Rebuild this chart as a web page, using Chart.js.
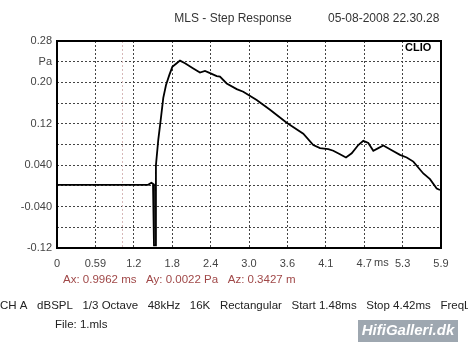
<!DOCTYPE html>
<html>
<head>
<meta charset="utf-8">
<script src="https://cdn.jsdelivr.net/npm/chart.js@4"></script>
<style>
  html, body { margin: 0; padding: 0; background: #fff; }
  #wrap { width: 468px; height: 351px; }
</style>
</head>
<body>
<div id="wrap"><canvas id="graph_step"></canvas></div>
<script>
/*------------------------------*/
/*          Data                */
/*------------------------------*/
var time_ms = [0, 0.5, 1.0, 1.40, 1.45, 1.475, 1.49, 1.515, 1.52, 1.556, 1.593, 1.633, 1.675, 1.725,
  1.772, 1.839, 1.890, 1.967, 2.094, 2.197, 2.274, 2.351, 2.454, 2.504, 2.607, 2.761, 2.862,
  3.068, 3.273, 3.529, 3.784, 3.938, 4.041, 4.168, 4.245, 4.348, 4.440, 4.528, 4.629, 4.706,
  4.783, 4.860, 4.937, 5.014, 5.143, 5.270, 5.373, 5.475, 5.628, 5.731, 5.834, 5.885]
var pressure_pa = [0.002, 0.002, 0.002, 0.002, 0.006, 0.004, -0.115, -0.115, 0.040, 0.089, 0.127, 0.170, 0.195, 0.214,
  0.230, 0.237, 0.242, 0.237, 0.227, 0.219, 0.222, 0.218, 0.212, 0.211, 0.198, 0.187, 0.182,
  0.166, 0.147, 0.122, 0.101, 0.079, 0.073, 0.071, 0.068, 0.061, 0.055, 0.063, 0.079, 0.087,
  0.083, 0.068, 0.073, 0.078, 0.069, 0.060, 0.055, 0.047, 0.024, 0.013, -0.005, -0.008]

var x_ticks = [0, 0.59, 1.18, 1.77, 2.36, 2.95, 3.54, 4.13, 4.72, 5.31, 5.9]
var x_labels = ['0', '0.59', '1.2', '1.8', '2.4', '3.0', '3.6', '4.1', '4.7', '5.3', '5.9']
var y_ticks = [-0.12, -0.08, -0.04, 0, 0.04, 0.08, 0.12, 0.16, 0.20, 0.24, 0.28]
var y_labels = ['-0.12', '', '-0.040', '', '0.040', '', '0.12', '', '0.20', 'Pa', '0.28']
var cursor_x = 0.9962

/*------------------------------*/
/*      Extra drawing           */
/*------------------------------*/
var frame_plugin = {
  id: 'frame',
  beforeDatasetsDraw: function (chart) {
    var c = chart.ctx, a = chart.chartArea
    var px = chart.scales.x.getPixelForValue(cursor_x)
    c.save()
    c.strokeStyle = '#d8b8b8'
    c.lineWidth = 1
    c.setLineDash([2, 2])
    c.beginPath()
    c.moveTo(Math.round(px) + 0.5, a.top)
    c.lineTo(Math.round(px) + 0.5, a.bottom)
    c.stroke()
    c.restore()
  },
  afterDraw: function (chart) {
    var c = chart.ctx, a = chart.chartArea
    c.save()
    c.strokeStyle = '#000'
    c.lineWidth = 2
    c.strokeRect(a.left, a.top, a.right - a.left, a.bottom - a.top)

    // CLIO tag
    c.fillStyle = '#fff'
    c.fillRect(a.right - 37, a.top + 1, 36, 13)
    c.fillStyle = '#000'
    c.font = 'bold 11px "Liberation Sans", Arial, sans-serif'
    c.textBaseline = 'middle'
    c.textAlign = 'left'
    c.fillText('CLIO', a.right - 36, a.top + 7)

    c.font = '11px "Liberation Sans", Arial, sans-serif'
    c.fillStyle = '#444'
    c.fillText('ms', 374, 263)

    c.font = '12px "Liberation Sans", Arial, sans-serif'
    c.fillStyle = '#333'
    c.textAlign = 'center'
    c.fillText('MLS - Step Response', 233, 19)
    c.textAlign = 'left'
    c.fillText('05-08-2008 22.30.28', 328, 19)

    c.font = '11.5px "Liberation Sans", Arial, sans-serif'
    c.fillStyle = '#a04848'
    c.fillText('Ax: 0.9962 ms   Ay: 0.0022 Pa   Az: 0.3427 m', 63, 280)

    c.fillStyle = '#222'
    c.fillText('CH A   dBSPL   1/3 Octave   48kHz   16K   Rectangular   Start 1.48ms   Stop 4.42ms   FreqL', 0, 306)
    c.fillText('File: 1.mls', 55, 325)

    // watermark
    c.fillStyle = '#9ea7b0'
    c.fillRect(358, 320, 100, 22)
    c.fillStyle = '#fff'
    c.font = 'italic bold 15px "Liberation Sans", Arial, sans-serif'
    c.textAlign = 'center'
    c.fillText('HifiGalleri.dk', 408, 331)
    c.restore()
  }
}

/*------------------------------*/
/*          Chart               */
/*------------------------------*/
var ctx_step = document.getElementById('graph_step').getContext('2d')

var config_step = {
  type: 'scatter',
  data: {
    datasets: [
      {
        label: 'Step response',
        data: time_ms.map(function (t, i) { return { x: t, y: pressure_pa[i] } }),
        showLine: true,
        borderColor: '#000',
        borderWidth: 1.8,
        pointRadius: 0,
        tension: 0
      }
    ]
  },
  options: {
    responsive: true,
    maintainAspectRatio: false,
    animation: false,
    layout: { padding: { top: 41, right: 27, left: 0, bottom: 0 } },
    plugins: {
      legend: { display: false },
      tooltip: { enabled: false }
    },
    scales: {
      x: {
        type: 'linear',
        min: 0,
        max: 5.9,
        afterBuildTicks: function (s) { s.ticks = x_ticks.map(function (v) { return { value: v } }) },
        afterFit: function (s) { s.height = 103 },
        ticks: {
          autoSkip: false,
          maxRotation: 0,
          padding: 9,
          color: '#444',
          font: { family: '"Liberation Sans", Arial, sans-serif', size: 11 },
          callback: function (v, i) { return x_labels[i] }
        },
        grid: { color: '#444', drawTicks: false },
        border: { display: false, dash: [2, 2] }
      },
      y: {
        min: -0.12,
        max: 0.28,
        afterBuildTicks: function (s) { s.ticks = y_ticks.map(function (v) { return { value: v } }) },
        afterFit: function (s) { s.width = 57 },
        ticks: {
          autoSkip: false,
          padding: 5,
          color: '#444',
          font: { family: '"Liberation Sans", Arial, sans-serif', size: 11 },
          callback: function (v, i) { return y_labels[i] }
        },
        grid: { color: '#444', drawTicks: false },
        border: { display: false, dash: [2, 2] }
      }
    }
  },
  plugins: [frame_plugin]
}
var graph_step = new Chart(ctx_step, config_step)
</script>
</body>
</html>
